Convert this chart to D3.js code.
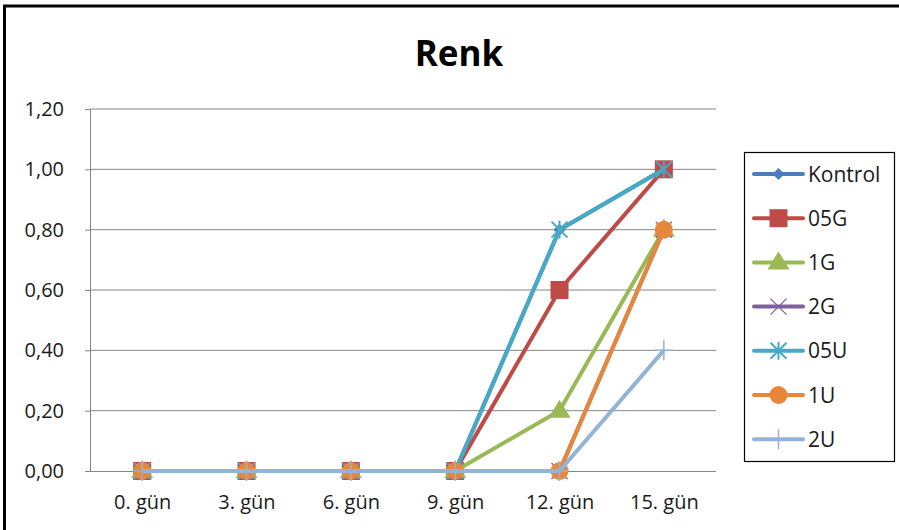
<!DOCTYPE html>
<html><head><meta charset="utf-8">
<script src="https://cdn.jsdelivr.net/npm/d3@7"></script>
<style>
body{margin:0;background:#fff;}
svg text{font-family:"Open Sans",Lato,sans-serif;fill:#1a1a1a;}
</style></head>
<body>
<svg id="chart" width="899" height="530"></svg>
<script>
const categories = ["0. gün","3. gün","6. gün","9. gün","12. gün","15. gün"];
const seriesNames = ["Kontrol","05G","1G","2G","05U","1U","2U"];
const kontrol = [0,0,0,0,0.8,1.0];
const g05 = [0,0,0,0,0.6,1.0];
const g1 = [0,0,0,0,0.2,0.8];
const g2 = [0,0,0,0,0,0.8];
const u05 = [0,0,0,0,0.8,1.0];
const u1 = [0,0,0,0,0,0.8];
const u2 = [0,0,0,0,0,0.4];
const yTicks = [0,0.2,0.4,0.6,0.8,1.0,1.2];
const title = "Renk";

const seriesValues = [kontrol,g05,g1,g2,u05,u1,u2];
const colors = ["#4A7EBB","#BE4B48","#98B954","#7D60A0","#46AAC5","#E8873A","#95B3D7"];
const markers = ["diamond","square","triangle","x","star","circle","plus"];

const svg = d3.select("#chart");
// outer frame (cropped on right/bottom)
svg.append("rect").attr("x",4.5).attr("y",6).attr("width",1000).attr("height",1000)
  .attr("fill","#fff").attr("stroke","#000").attr("stroke-width",3);

const L=90,R=716,T=109,B=471;
const x = d3.scalePoint().domain(categories).range([L,R]).padding(0.5);
const y = d3.scaleLinear().domain([0,1.2]).range([B,T]);

svg.append("text").attr("x",459).attr("y",66).attr("text-anchor","middle")
  .attr("font-size",35).attr("font-weight","bold").style("fill","#000").text(title);

// gridlines
svg.append("g").selectAll("line").data(yTicks.filter(d=>d>0)).join("line")
  .attr("x1",L).attr("x2",R).attr("y1",d=>y(d)).attr("y2",d=>y(d))
  .attr("stroke","#868686").attr("stroke-width",1);

// y axis
const yAxis = d3.axisLeft(y).tickValues(yTicks).tickSize(5).tickPadding(21)
  .tickFormat(d=>d3.format(".2f")(d).replace(".",","));
const ga = svg.append("g").attr("transform",`translate(${L},0)`).call(yAxis);
ga.select(".domain").attr("stroke","#868686");
ga.selectAll(".tick line").attr("stroke","#868686");
ga.selectAll("text").attr("font-size",20).attr("font-family","Open Sans").style("fill","#1a1a1a");

// x axis
const xAxis = d3.axisBottom(x).tickSize(0).tickPadding(24);
const gx = svg.append("g").attr("transform",`translate(0,${B})`).call(xAxis);
gx.select(".domain").attr("stroke","#868686").attr("d",`M${L},0.5H${R}`);
gx.selectAll("text").attr("font-size",20).attr("font-family","Open Sans").style("fill","#1a1a1a");

function drawMarker(g, type, color, cx, cy){
  if(type==="diamond"){
    g.append("path").attr("d",`M${cx},${cy-6}L${cx+6},${cy}L${cx},${cy+6}L${cx-6},${cy}Z`).attr("fill",color);
  } else if(type==="square"){
    g.append("rect").attr("x",cx-9).attr("y",cy-9).attr("width",18).attr("height",18).attr("fill",color);
  } else if(type==="triangle"){
    g.append("path").attr("d",`M${cx},${cy-11}L${cx+11},${cy+7}L${cx-11},${cy+7}Z`).attr("fill",color);
  } else if(type==="x"){
    g.append("path").attr("d",`M${cx-8},${cy-8}L${cx+8},${cy+8}M${cx-8},${cy+8}L${cx+8},${cy-8}`).attr("stroke",color).attr("stroke-width",1.3);
  } else if(type==="star"){
    g.append("path").attr("d",`M${cx-8},${cy-8}L${cx+8},${cy+8}M${cx-8},${cy+8}L${cx+8},${cy-8}M${cx},${cy-9}L${cx},${cy+9}`).attr("stroke",color).attr("stroke-width",2);
  } else if(type==="circle"){
    g.append("circle").attr("cx",cx).attr("cy",cy).attr("r",9).attr("fill",color);
  } else if(type==="plus"){
    g.append("path").attr("d",`M${cx-9},${cy}L${cx+9},${cy}M${cx},${cy-10}L${cx},${cy+10}`).attr("stroke",color).attr("stroke-width",1.5);
  }
}

const line = d3.line().x((d,i)=>x(categories[i])).y(d=>y(d));
seriesValues.forEach((vals,si)=>{
  const g = svg.append("g");
  g.append("path").datum(vals).attr("d",line).attr("fill","none")
    .attr("stroke",colors[si]).attr("stroke-width",4).attr("stroke-linejoin","round");
  vals.forEach((v,i)=>drawMarker(g, markers[si], colors[si], x(categories[i]), y(v)));
});

// legend
const lg = svg.append("g");
lg.append("rect").attr("x",744.5).attr("y",152.5).attr("width",150).attr("height",309)
  .attr("fill","#fff").attr("stroke","#000").attr("stroke-width",1.2);
seriesNames.forEach((n,i)=>{
  const cy = 174 + i*44.2;
  const g = lg.append("g");
  g.append("line").attr("x1",754).attr("x2",803).attr("y1",cy).attr("y2",cy)
    .attr("stroke",colors[i]).attr("stroke-width",4).attr("stroke-linecap","round");
  drawMarker(g, markers[i], colors[i], 778.5, cy);
  g.append("text").attr("x",808).attr("y",cy).attr("dy","0.36em").attr("font-size",21).text(n);
});
</script>
</body></html>
